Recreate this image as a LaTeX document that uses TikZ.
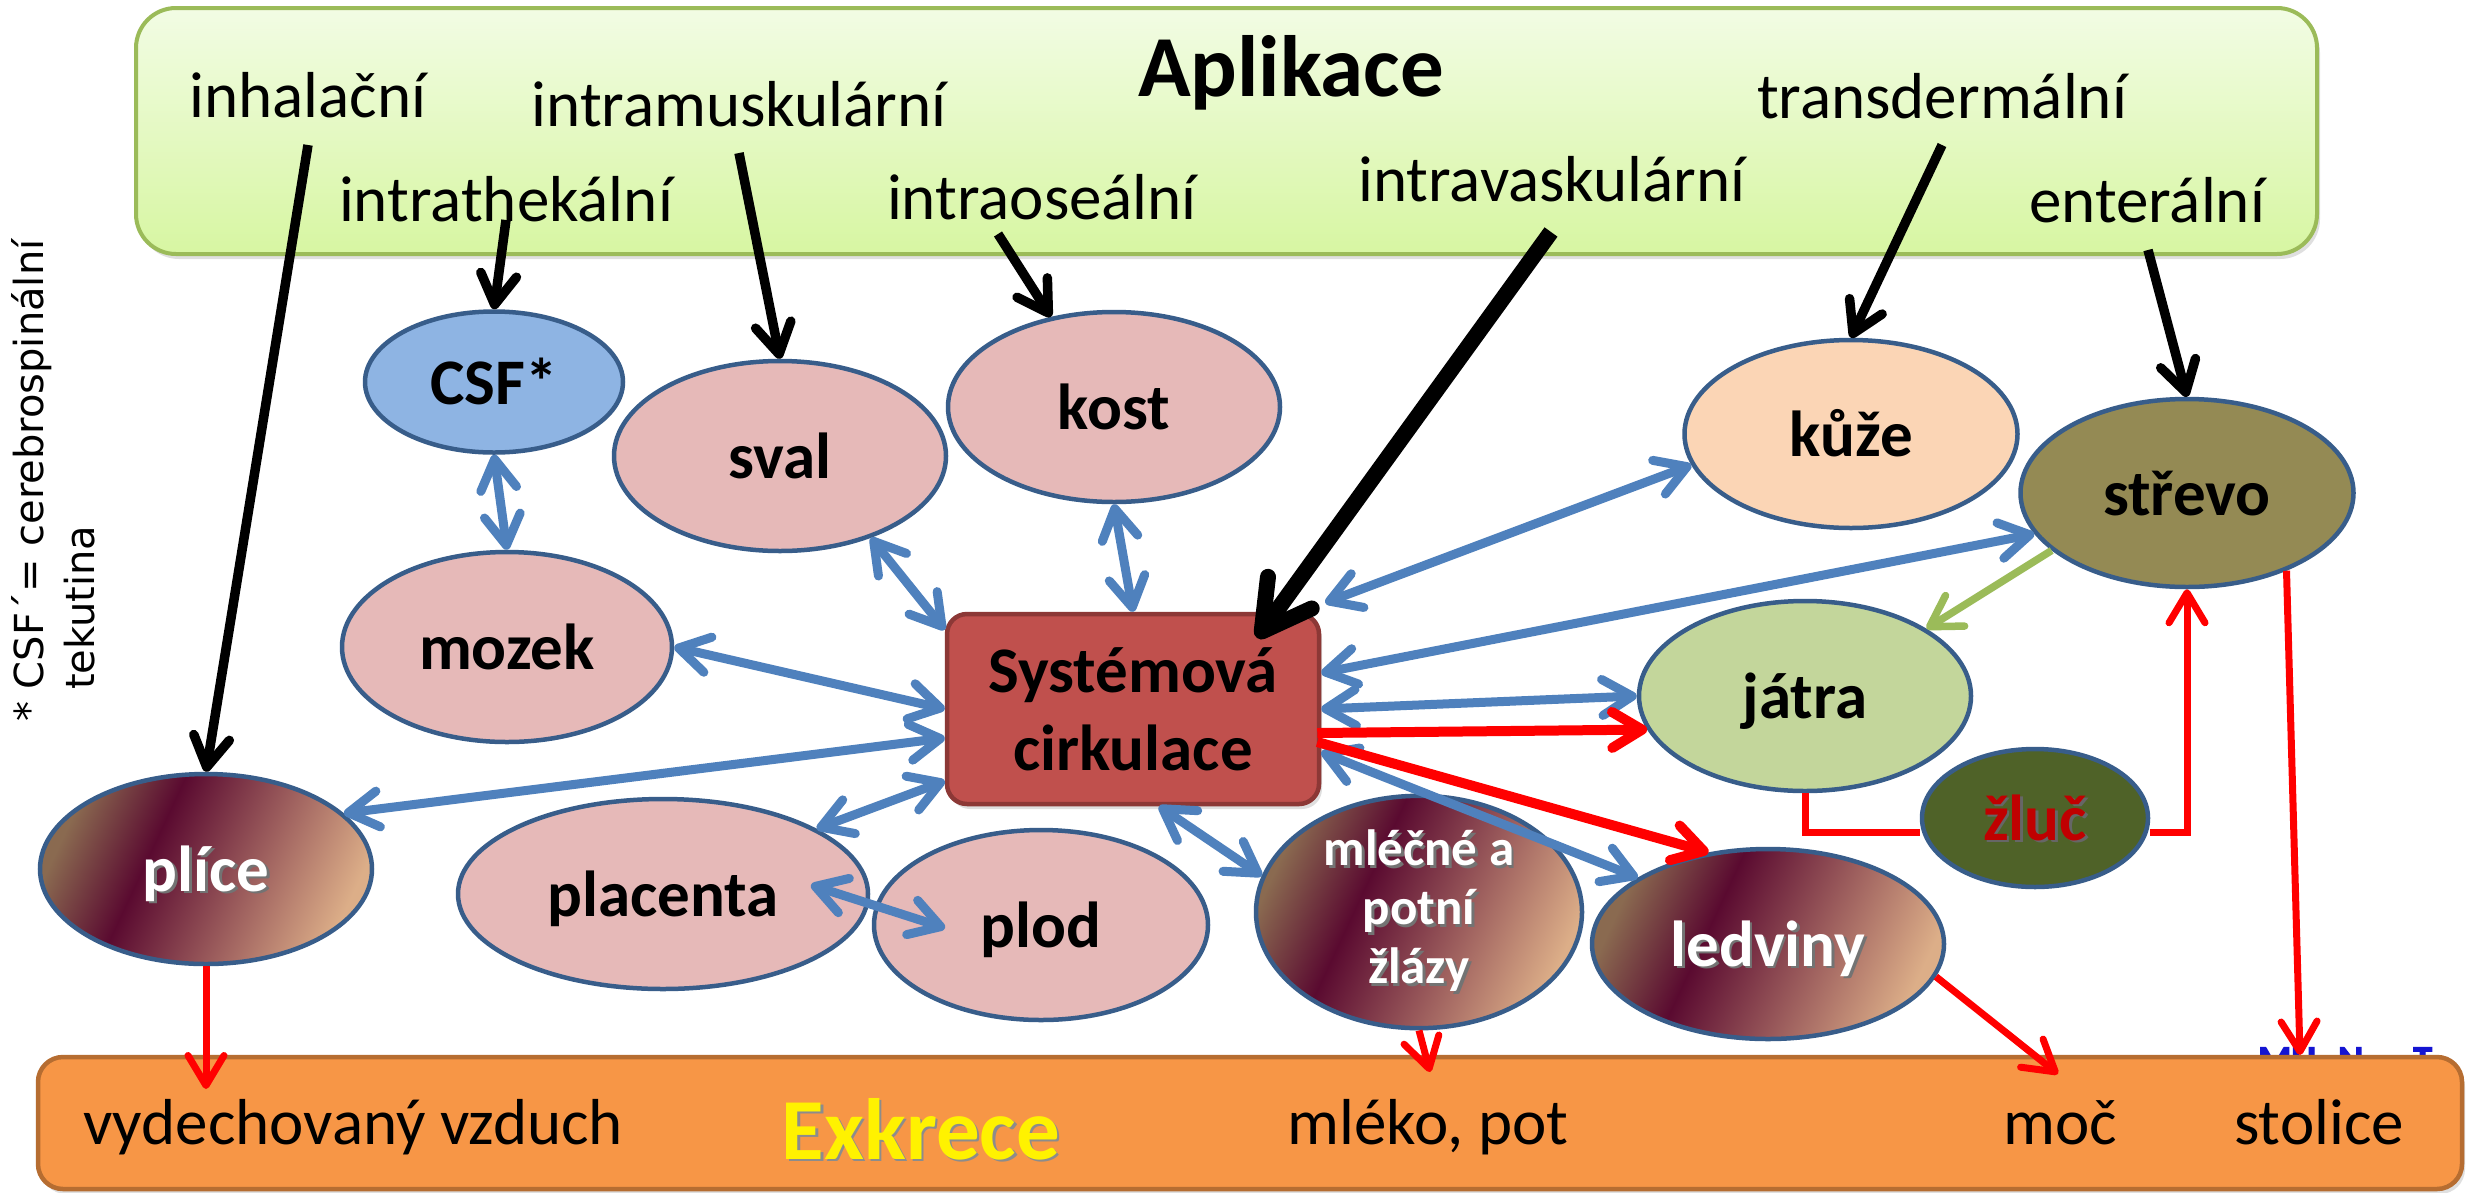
\documentclass[tikz,border=0pt]{standalone}
\usepackage{fontspec}
\setmainfont{Carlito}
\newfontfamily\dejavu{DejaVu Sans}
\newfontfamily\mufont[FakeBold=3]{Carlito}
\usetikzlibrary{arrows.meta,shapes.geometric,shadows,calc}

\definecolor{nodeborder}{HTML}{385D8A}
\definecolor{pinkfill}{HTML}{E6B9B8}
\definecolor{csffill}{HTML}{8EB4E3}
\definecolor{kuzefill}{HTML}{FBD5B5}
\definecolor{strevofill}{HTML}{948A54}
\definecolor{jatrafill}{HTML}{C3D69B}
\definecolor{zlucfill}{HTML}{4F6228}
\definecolor{zluctext}{HTML}{C00000}
\definecolor{sysfill}{HTML}{C0504D}
\definecolor{sysborder}{HTML}{8C3836}
\definecolor{exkfill}{HTML}{F79646}
\definecolor{exkborder}{HTML}{B66D31}
\definecolor{aplborder}{HTML}{9BBB59}
\definecolor{apltop}{HTML}{F2FCE4}
\definecolor{aplbot}{HTML}{D7F6A2}
\definecolor{arrblue}{HTML}{4F81BD}
\definecolor{arrgreen}{HTML}{9BBB59}
\definecolor{arrred}{HTML}{FF0000}
\definecolor{mahA}{HTML}{8A6A50}
\definecolor{mahB}{HTML}{5A0A30}
\definecolor{mahC}{HTML}{DCAE88}
\definecolor{mublue}{HTML}{1414D2}

\pgfdeclarehorizontalshading{mahogany}{100bp}{color(0bp)=(mahA); color(25bp)=(mahA); color(40bp)=(mahB); color(75bp)=(mahC); color(100bp)=(mahC)}

\newcommand{\txtshadow}[2]{\leavevmode\rlap{\kern2.5pt\raisebox{-2.5pt}{\textcolor{#1}{#2}}}#2}

\tikzset{
  lab/.style={font=\fontsize{65}{78}\selectfont, inner sep=0pt, anchor=base},
  bigtitle/.style={font=\fontsize{87}{100}\selectfont\bfseries, inner sep=0pt, anchor=base},
  ell/.style={ellipse, draw=nodeborder, line width=4.5pt, inner sep=0pt,
    font=\fontsize{65}{78}\selectfont\bfseries, text height=50pt, text depth=6pt},
  pinkell/.style={ell, fill=pinkfill},
  gradell/.style={ell, shading=mahogany, shading angle=-25, text=white},
  blk/.style={draw=black, line width=9.5pt, -{Straight Barb[length=30pt,width=36pt,round]}},
  blkthick/.style={draw=black, line width=16pt, -{Straight Barb[length=48pt,width=54pt,round]}},
  bblue/.style={draw=arrblue, line width=9pt, {Straight Barb[length=30pt,width=36pt,round]}-{Straight Barb[length=30pt,width=36pt,round]}},
  garr/.style={draw=arrgreen, line width=7.5pt, -{Straight Barb[length=30pt,width=36pt,round]}},
  rarr/.style={draw=arrred, line width=7pt, -{Straight Barb[length=30pt,width=36pt,round]}},
  rarrthick/.style={draw=arrred, line width=10pt, -{Straight Barb[length=30pt,width=36pt,round]}},
  rline/.style={draw=arrred, line width=7pt},
  boxshadow/.style={drop shadow={opacity=0.25, shadow xshift=3pt, shadow yshift=-5pt}}
}

\begin{document}
\begin{tikzpicture}[x=1pt,y=-1pt]
\useasboundingbox (0,0) rectangle (2478,1192);
\fill[white] (0,0) rectangle (2478,1192);

% ---------- Aplikace box ----------
\node[draw=aplborder, line width=4pt, rounded corners=40pt, top color=apltop, bottom color=aplbot,
      minimum width=2181pt, minimum height=246pt, inner sep=0pt, boxshadow] (aplbox) at (1226.5,131) {};
\node[bigtitle] (apl) at (1291,96) {Aplikace};
\node[lab] (inh) at (308,117) {inhalační};
\node[lab] (imu) at (739,126) {intramuskulární};
\node[lab] (ith) at (506,221) {intrathekální};
\node[lab] (ios) at (1042,219) {intraoseální};
\node[lab] (iva) at (1552,201) {intravaskulární};
\node[lab] (tdm) at (1942,118) {transdermální};
\node[lab] (ent) at (2147,222) {enterální};

% ---------- side note ----------
\node[rotate=90, anchor=base west, inner sep=0pt, font=\dejavu\fontsize{40}{48}\selectfont] (note1) at (43,722) {* CSF´= cerebrospinální};
\node[rotate=90, anchor=base west, inner sep=0pt, font=\dejavu\fontsize{40}{48}\selectfont] (note2) at (94,690) {tekutina};

% ---------- hidden logo text + Exkrece box ----------
\node[font=\mufont\bfseries\fontsize{38}{40}\selectfont, text=mublue, anchor=base west, inner sep=0pt] (mun) at (2258,1072) {MU\hspace{22pt}N\hspace{50pt}T};
\node[draw=exkborder, line width=4.5pt, rounded corners=25pt, fill=exkfill,
      minimum width=2424pt, minimum height=132pt, inner sep=0pt, boxshadow] (exkbox) at (1250,1123) {};
\node[lab, anchor=base west] (vzd) at (83,1144) {vydechovaný vzduch};
\node[bigtitle, text=yellow] (exk) at (921,1159) {\txtshadow{black!45}{Exkrece}};
\node[lab] (mlp) at (1428,1144) {mléko, pot};
\node[lab] (moc) at (2060,1144) {moč};
\node[lab] (sto) at (2319,1144) {stolice};

% ---------- central box ----------
\node[draw=sysborder, line width=4.5pt, fill=sysfill, rounded corners=20pt, minimum width=372pt,
      minimum height=190pt, inner sep=0pt, align=center, font=\fontsize{65}{78}\selectfont\bfseries, boxshadow]
      (sys) at (1133,709) {Systémová\\cirkulace};

% ---------- ellipses ----------
\node[ell, fill=csffill, minimum width=258pt, minimum height=141pt] (csf) at (494,382) {CSF*};
\node[pinkell, minimum width=332pt, minimum height=190pt] (sval) at (780,456) {sval};
\node[pinkell, minimum width=332pt, minimum height=190pt] (kost) at (1114,407) {kost};
\node[ell, fill=kuzefill, minimum width=333pt, minimum height=188pt] (kuze) at (1851,434) {kůže};
\node[ell, fill=strevofill, minimum width=333pt, minimum height=188pt] (strevo) at (2187,493) {střevo};
\node[pinkell, minimum width=330pt, minimum height=190pt] (mozek) at (507,647) {mozek};
\node[ell, fill=jatrafill, minimum width=332pt, minimum height=190pt] (jatra) at (1805,696) {játra};
\node[gradell, minimum width=332pt, minimum height=190pt] (plice) at (206,869) {\txtshadow{black!55}{plíce}};
\node[pinkell, minimum width=410pt, minimum height=190pt] (placenta) at (663,894) {placenta};
\node[pinkell, minimum width=334pt, minimum height=190pt] (plod) at (1041,925) {plod};
\node[ellipse, draw=nodeborder, line width=4.5pt, inner sep=0pt, shading=mahogany, shading angle=-25, text=white,
      minimum width=326pt, minimum height=190pt, align=center,
      font=\fontsize{51}{59}\selectfont\bfseries] (mlecne) at (1419,912)
      {\txtshadow{black!55}{mléčné a}\\\txtshadow{black!55}{potní}\\\txtshadow{black!55}{žlázy}};
\node[gradell, minimum width=352pt, minimum height=190pt] (ledviny) at (1768,944) {\txtshadow{black!55}{ledviny}};
\node[ell, fill=zlucfill, text=zluctext, minimum width=226pt, minimum height=138pt] (zluc) at (2035,818) {\txtshadow{black!60}{žluč}};

% ---------- free ends ----------
\coordinate (s-inh) at (308,145);
\coordinate (s-ith) at (506,220);
\coordinate (s-imu) at (739,153);
\coordinate (s-ios) at (998,234);
\coordinate (s-iva) at (1551,232);
\coordinate (s-tdm) at (1942,145);
\coordinate (s-ent) at (2148,250);
\coordinate (t-vz) at (206,1089);
\coordinate (t-ml) at (1430,1072);
\coordinate (t-mo) at (2058,1074);
\coordinate (t-st) at (2300,1055);

% ---------- application arrows ----------
\draw[blk] (s-inh) -- (plice.north);
\draw[blk] (s-ith) -- (csf.north);
\draw[blk] (s-imu) -- (sval.north);
\draw[blk] (s-ios) -- (kost.125);
\draw[blkthick] (s-iva) -- ([xshift=124pt,yshift=71pt]sys.center);
\draw[blk] (s-tdm) -- (kuze.north);
\draw[blk] (s-ent) -- (strevo.north);

% ---------- distribution (blue) ----------
\draw[bblue] (csf.south) -- (mozek.north);
\draw[bblue] (sval.-42) -- ([yshift=-18pt]sys.north west);
\draw[bblue] (kost.south) -- (sys.north);
\draw[bblue] (mozek.east) -- (sys.west);
\draw[bblue] (plice.22) -- ([yshift=-29pt]sys.west);
\draw[bblue] (placenta.23) -- ([yshift=-72pt]sys.west);
\draw[bblue] ([xshift=148pt,yshift=9pt]placenta.center) -- ([xshift=-96pt,yshift=-3pt]plod.center);
\draw[bblue] ([xshift=26pt]sys.south) -- (mlecne.167);
\draw[bblue] ([yshift=-43pt]sys.east) -- (ledviny.153);
\draw[bblue] (sys.east) -- (jatra.180);
\draw[bblue] ([yshift=36pt]sys.east) -- (strevo.195);
\draw[bblue] ([xshift=4pt,yshift=9pt]sys.north east) -- (kuze.191);

% ---------- green ----------
\draw[garr] (strevo.203) -- (jatra.29);

% ---------- red (elimination) ----------
\draw[rarrthick] ([xshift=-4pt,yshift=-24pt]sys.east) -- (jatra.192);
\draw[rarrthick] ([xshift=-4pt,yshift=-33pt]sys.east) -- (ledviny.123);
\draw[rline] (jatra.south) |- ([yshift=-14pt]zluc.west);
\draw[rarr] ([yshift=-14pt]zluc.east) -| (strevo.south);
\draw[rarr] (plice.south) -- (t-vz);
\draw[rarr] (mlecne.south) -- (t-ml);
\draw[rarr] (ledviny.-11) -- (t-mo);
\draw[rarr] (strevo.-38) -- (t-st);
\end{tikzpicture}
\end{document}
